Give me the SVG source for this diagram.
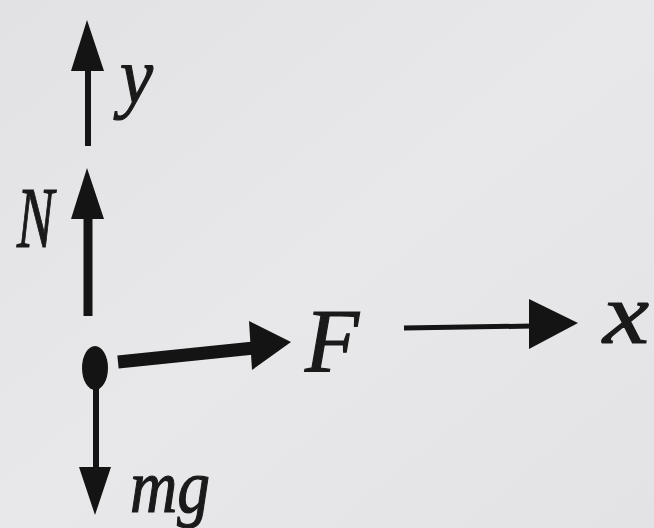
<svg xmlns="http://www.w3.org/2000/svg" width="654" height="528" viewBox="0 0 654 528">
<defs>
<linearGradient id="bg" x1="0" y1="0" x2="1" y2="1">
<stop offset="0" stop-color="#e2e2e4"/>
<stop offset="0.5" stop-color="#e8e7ea"/>
<stop offset="1" stop-color="#e3e3e5"/>
</linearGradient>
</defs>
<style>
.ink{fill:#141414}
.sh{stroke:#141414;fill:none}
.lbl{font-family:"Liberation Serif","Times New Roman",serif;font-style:italic;fill:#1a1a1a;stroke:#1a1a1a;stroke-width:1.2}
</style>
<rect width="654" height="528" fill="url(#bg)"/>
<g id="connectors">
<g id="y-axis">
<line class="sh" x1="88" y1="66" x2="88" y2="146" stroke-width="6"/>
<polygon class="ink" points="87,20 104,71 71,71"/>
</g>
<g id="force-N">
<line class="sh" x1="88" y1="214" x2="88" y2="316" stroke-width="9"/>
<polygon class="ink" points="87,168 104,219 71,219"/>
</g>
<g id="force-mg">
<line class="sh" x1="96" y1="386" x2="96" y2="472" stroke-width="6"/>
<polygon class="ink" points="79,467 111,467 95,515"/>
</g>
<g id="force-F">
<line class="sh" x1="118" y1="362" x2="254" y2="348" stroke-width="13"/>
<polygon class="ink" points="249,321 291,342 252,370"/>
</g>
<g id="x-axis">
<line class="sh" x1="404" y1="328" x2="533" y2="326" stroke-width="5"/>
<polygon class="ink" points="529,299 578,323 529,349"/>
</g>
</g>
<g id="body">
<ellipse class="ink" cx="95" cy="368" rx="13" ry="22"/>
</g>
<g id="labels">
<text class="lbl" x="120" y="103" font-size="80" textLength="33" lengthAdjust="spacingAndGlyphs">y</text>
<text class="lbl" x="17" y="247" font-size="86" textLength="37" lengthAdjust="spacingAndGlyphs">N</text>
<text class="lbl" x="305" y="372" font-size="90" textLength="54" lengthAdjust="spacingAndGlyphs">F</text>
<text class="lbl" x="603" y="343" font-size="86" textLength="46" lengthAdjust="spacingAndGlyphs">x</text>
<text class="lbl" x="130" y="512" font-size="76" textLength="80" lengthAdjust="spacingAndGlyphs">mg</text>
</g>
</svg>
